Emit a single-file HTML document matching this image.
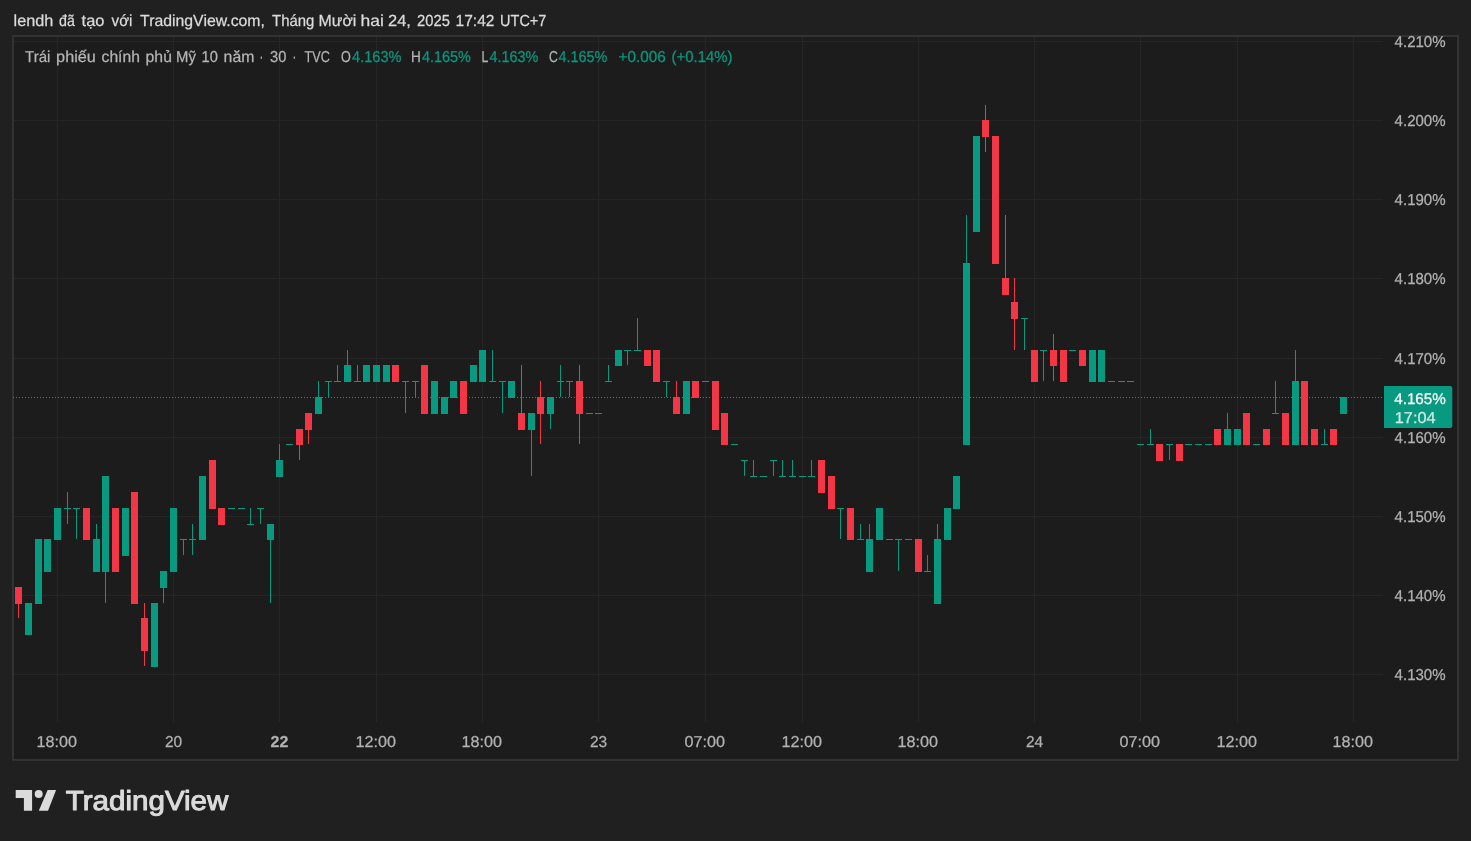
<!DOCTYPE html>
<html><head><meta charset="utf-8">
<style>
html,body{margin:0;padding:0;}
body{width:1471px;height:841px;background:#202020;position:relative;overflow:hidden;font-family:"Liberation Sans",sans-serif;}
.frame{position:absolute;left:12px;top:35px;width:1443px;height:722px;border:2px solid #323232;background:#1c1c1c;}
svg{position:absolute;left:0;top:0;will-change:transform;}
text{font-family:"Liberation Sans",sans-serif;white-space:pre;stroke:currentColor;text-rendering:geometricPrecision;}
</style></head><body>
<div class="frame"></div>
<svg width="1471" height="841">
<g shape-rendering="crispEdges">
<rect x="14" y="41" width="1369" height="1" fill="#262626"/>
<rect x="14" y="120" width="1369" height="1" fill="#262626"/>
<rect x="14" y="199" width="1369" height="1" fill="#262626"/>
<rect x="14" y="278" width="1369" height="1" fill="#262626"/>
<rect x="14" y="358" width="1369" height="1" fill="#262626"/>
<rect x="14" y="437" width="1369" height="1" fill="#262626"/>
<rect x="14" y="516" width="1369" height="1" fill="#262626"/>
<rect x="14" y="595" width="1369" height="1" fill="#262626"/>
<rect x="14" y="674" width="1369" height="1" fill="#262626"/>
<rect x="57" y="37" width="1" height="685" fill="#262626"/>
<rect x="173" y="37" width="1" height="685" fill="#262626"/>
<rect x="279" y="37" width="1" height="685" fill="#262626"/>
<rect x="376" y="37" width="1" height="685" fill="#262626"/>
<rect x="482" y="37" width="1" height="685" fill="#262626"/>
<rect x="598" y="37" width="1" height="685" fill="#262626"/>
<rect x="705" y="37" width="1" height="685" fill="#262626"/>
<rect x="802" y="37" width="1" height="685" fill="#262626"/>
<rect x="918" y="37" width="1" height="685" fill="#262626"/>
<rect x="1034" y="37" width="1" height="685" fill="#262626"/>
<rect x="1140" y="37" width="1" height="685" fill="#262626"/>
<rect x="1237" y="37" width="1" height="685" fill="#262626"/>
<rect x="1353" y="37" width="1" height="685" fill="#262626"/>
<rect x="18" y="587" width="1" height="31" fill="#f23645"/>
<rect x="15" y="587" width="7" height="17" fill="#f23645"/>
<rect x="25" y="603" width="7" height="32" fill="#089981"/>
<rect x="35" y="539" width="7" height="65" fill="#089981"/>
<rect x="44" y="539" width="7" height="33" fill="#089981"/>
<rect x="54" y="508" width="7" height="32" fill="#089981"/>
<rect x="67" y="492" width="1" height="32" fill="#089981"/>
<rect x="64" y="508" width="7" height="1" fill="#089981"/>
<rect x="76" y="508" width="1" height="31" fill="#089981"/>
<rect x="73" y="508" width="7" height="1" fill="#089981"/>
<rect x="83" y="508" width="7" height="32" fill="#f23645"/>
<rect x="96" y="524" width="1" height="48" fill="#089981"/>
<rect x="93" y="539" width="7" height="33" fill="#089981"/>
<rect x="105" y="476" width="1" height="127" fill="#089981"/>
<rect x="102" y="476" width="7" height="96" fill="#089981"/>
<rect x="112" y="508" width="7" height="64" fill="#f23645"/>
<rect x="122" y="508" width="7" height="48" fill="#089981"/>
<rect x="131" y="492" width="7" height="112" fill="#f23645"/>
<rect x="144" y="603" width="1" height="63" fill="#f23645"/>
<rect x="141" y="618" width="7" height="33" fill="#f23645"/>
<rect x="151" y="603" width="7" height="64" fill="#089981"/>
<rect x="163" y="571" width="1" height="32" fill="#089981"/>
<rect x="160" y="571" width="7" height="17" fill="#089981"/>
<rect x="170" y="508" width="7" height="64" fill="#089981"/>
<rect x="183" y="539" width="1" height="16" fill="#089981"/>
<rect x="180" y="539" width="7" height="1" fill="#089981"/>
<rect x="192" y="524" width="1" height="31" fill="#089981"/>
<rect x="189" y="539" width="7" height="1" fill="#089981"/>
<rect x="199" y="476" width="7" height="64" fill="#089981"/>
<rect x="209" y="460" width="7" height="49" fill="#f23645"/>
<rect x="218" y="508" width="7" height="17" fill="#f23645"/>
<rect x="228" y="508" width="7" height="1" fill="#089981"/>
<rect x="238" y="508" width="7" height="1" fill="#089981"/>
<rect x="250" y="508" width="1" height="17" fill="#089981"/>
<rect x="247" y="524" width="7" height="1" fill="#089981"/>
<rect x="260" y="508" width="1" height="16" fill="#089981"/>
<rect x="257" y="508" width="7" height="1" fill="#089981"/>
<rect x="270" y="524" width="1" height="79" fill="#089981"/>
<rect x="267" y="524" width="7" height="16" fill="#089981"/>
<rect x="279" y="444" width="1" height="33" fill="#089981"/>
<rect x="276" y="460" width="7" height="17" fill="#089981"/>
<rect x="286" y="444" width="7" height="1" fill="#089981"/>
<rect x="299" y="429" width="1" height="31" fill="#f23645"/>
<rect x="296" y="429" width="7" height="16" fill="#f23645"/>
<rect x="308" y="413" width="1" height="31" fill="#f23645"/>
<rect x="305" y="413" width="7" height="17" fill="#f23645"/>
<rect x="318" y="381" width="1" height="33" fill="#089981"/>
<rect x="315" y="397" width="7" height="17" fill="#089981"/>
<rect x="328" y="381" width="1" height="16" fill="#089981"/>
<rect x="325" y="381" width="7" height="1" fill="#089981"/>
<rect x="337" y="365" width="1" height="17" fill="#089981"/>
<rect x="334" y="381" width="7" height="1" fill="#089981"/>
<rect x="347" y="350" width="1" height="32" fill="#089981"/>
<rect x="344" y="365" width="7" height="17" fill="#089981"/>
<rect x="357" y="365" width="1" height="17" fill="#089981"/>
<rect x="354" y="381" width="7" height="1" fill="#089981"/>
<rect x="363" y="365" width="7" height="17" fill="#089981"/>
<rect x="373" y="365" width="7" height="17" fill="#089981"/>
<rect x="383" y="365" width="7" height="17" fill="#089981"/>
<rect x="392" y="365" width="7" height="17" fill="#f23645"/>
<rect x="405" y="381" width="1" height="32" fill="#089981"/>
<rect x="402" y="381" width="7" height="1" fill="#089981"/>
<rect x="415" y="381" width="1" height="16" fill="#089981"/>
<rect x="412" y="381" width="7" height="1" fill="#089981"/>
<rect x="421" y="365" width="7" height="49" fill="#f23645"/>
<rect x="431" y="381" width="7" height="33" fill="#089981"/>
<rect x="441" y="397" width="7" height="17" fill="#089981"/>
<rect x="450" y="381" width="7" height="17" fill="#089981"/>
<rect x="460" y="381" width="7" height="33" fill="#f23645"/>
<rect x="470" y="365" width="7" height="17" fill="#089981"/>
<rect x="479" y="350" width="7" height="32" fill="#089981"/>
<rect x="492" y="350" width="1" height="32" fill="#089981"/>
<rect x="489" y="381" width="7" height="1" fill="#089981"/>
<rect x="502" y="381" width="1" height="32" fill="#089981"/>
<rect x="499" y="381" width="7" height="1" fill="#089981"/>
<rect x="508" y="381" width="7" height="17" fill="#089981"/>
<rect x="521" y="365" width="1" height="65" fill="#f23645"/>
<rect x="518" y="413" width="7" height="17" fill="#f23645"/>
<rect x="531" y="413" width="1" height="63" fill="#089981"/>
<rect x="528" y="413" width="7" height="17" fill="#089981"/>
<rect x="540" y="381" width="1" height="63" fill="#f23645"/>
<rect x="537" y="397" width="7" height="17" fill="#f23645"/>
<rect x="550" y="397" width="1" height="32" fill="#089981"/>
<rect x="547" y="397" width="7" height="17" fill="#089981"/>
<rect x="560" y="365" width="1" height="32" fill="#089981"/>
<rect x="557" y="381" width="7" height="1" fill="#089981"/>
<rect x="569" y="381" width="1" height="16" fill="#089981"/>
<rect x="566" y="381" width="7" height="1" fill="#089981"/>
<rect x="579" y="365" width="1" height="79" fill="#f23645"/>
<rect x="576" y="381" width="7" height="33" fill="#f23645"/>
<rect x="586" y="413" width="7" height="1" fill="#089981"/>
<rect x="595" y="413" width="7" height="1" fill="#089981"/>
<rect x="608" y="365" width="1" height="17" fill="#089981"/>
<rect x="605" y="381" width="7" height="1" fill="#089981"/>
<rect x="615" y="350" width="7" height="16" fill="#089981"/>
<rect x="627" y="350" width="1" height="15" fill="#089981"/>
<rect x="624" y="350" width="7" height="1" fill="#089981"/>
<rect x="637" y="318" width="1" height="33" fill="#089981"/>
<rect x="634" y="350" width="7" height="1" fill="#089981"/>
<rect x="644" y="350" width="7" height="16" fill="#f23645"/>
<rect x="653" y="350" width="7" height="32" fill="#f23645"/>
<rect x="666" y="381" width="1" height="16" fill="#089981"/>
<rect x="663" y="381" width="7" height="1" fill="#089981"/>
<rect x="676" y="381" width="1" height="33" fill="#f23645"/>
<rect x="673" y="397" width="7" height="17" fill="#f23645"/>
<rect x="683" y="381" width="7" height="33" fill="#089981"/>
<rect x="692" y="381" width="7" height="17" fill="#f23645"/>
<rect x="702" y="381" width="7" height="1" fill="#089981"/>
<rect x="712" y="381" width="7" height="49" fill="#f23645"/>
<rect x="721" y="413" width="7" height="32" fill="#f23645"/>
<rect x="731" y="444" width="7" height="1" fill="#089981"/>
<rect x="744" y="460" width="1" height="16" fill="#089981"/>
<rect x="741" y="460" width="7" height="1" fill="#089981"/>
<rect x="753" y="460" width="1" height="17" fill="#089981"/>
<rect x="750" y="476" width="7" height="1" fill="#089981"/>
<rect x="760" y="476" width="7" height="1" fill="#089981"/>
<rect x="773" y="460" width="1" height="16" fill="#089981"/>
<rect x="770" y="460" width="7" height="1" fill="#089981"/>
<rect x="782" y="460" width="1" height="17" fill="#089981"/>
<rect x="779" y="476" width="7" height="1" fill="#089981"/>
<rect x="792" y="460" width="1" height="17" fill="#089981"/>
<rect x="789" y="476" width="7" height="1" fill="#089981"/>
<rect x="799" y="476" width="7" height="1" fill="#089981"/>
<rect x="811" y="460" width="1" height="17" fill="#089981"/>
<rect x="808" y="476" width="7" height="1" fill="#089981"/>
<rect x="818" y="460" width="7" height="33" fill="#f23645"/>
<rect x="828" y="476" width="7" height="33" fill="#f23645"/>
<rect x="840" y="508" width="1" height="31" fill="#089981"/>
<rect x="837" y="508" width="7" height="1" fill="#089981"/>
<rect x="847" y="508" width="7" height="32" fill="#f23645"/>
<rect x="860" y="524" width="1" height="16" fill="#089981"/>
<rect x="857" y="539" width="7" height="1" fill="#089981"/>
<rect x="869" y="524" width="1" height="48" fill="#089981"/>
<rect x="866" y="539" width="7" height="33" fill="#089981"/>
<rect x="876" y="508" width="7" height="32" fill="#089981"/>
<rect x="886" y="539" width="7" height="1" fill="#089981"/>
<rect x="898" y="539" width="1" height="32" fill="#089981"/>
<rect x="895" y="539" width="7" height="1" fill="#089981"/>
<rect x="905" y="539" width="7" height="1" fill="#089981"/>
<rect x="915" y="539" width="7" height="33" fill="#f23645"/>
<rect x="927" y="555" width="1" height="17" fill="#089981"/>
<rect x="924" y="571" width="7" height="1" fill="#089981"/>
<rect x="937" y="524" width="1" height="80" fill="#089981"/>
<rect x="934" y="539" width="7" height="65" fill="#089981"/>
<rect x="944" y="508" width="7" height="32" fill="#089981"/>
<rect x="953" y="476" width="7" height="33" fill="#089981"/>
<rect x="966" y="215" width="1" height="230" fill="#089981"/>
<rect x="963" y="263" width="7" height="182" fill="#089981"/>
<rect x="973" y="136" width="7" height="96" fill="#089981"/>
<rect x="985" y="105" width="1" height="47" fill="#f23645"/>
<rect x="982" y="120" width="7" height="17" fill="#f23645"/>
<rect x="992" y="136" width="7" height="128" fill="#f23645"/>
<rect x="1005" y="215" width="1" height="80" fill="#f23645"/>
<rect x="1002" y="278" width="7" height="17" fill="#f23645"/>
<rect x="1014" y="278" width="1" height="72" fill="#f23645"/>
<rect x="1011" y="302" width="7" height="17" fill="#f23645"/>
<rect x="1024" y="318" width="1" height="32" fill="#089981"/>
<rect x="1021" y="318" width="7" height="1" fill="#089981"/>
<rect x="1031" y="350" width="7" height="32" fill="#f23645"/>
<rect x="1043" y="350" width="1" height="31" fill="#089981"/>
<rect x="1040" y="350" width="7" height="1" fill="#089981"/>
<rect x="1053" y="334" width="1" height="47" fill="#f23645"/>
<rect x="1050" y="350" width="7" height="16" fill="#f23645"/>
<rect x="1060" y="350" width="7" height="32" fill="#f23645"/>
<rect x="1069" y="350" width="7" height="1" fill="#089981"/>
<rect x="1079" y="350" width="7" height="16" fill="#f23645"/>
<rect x="1089" y="350" width="7" height="32" fill="#089981"/>
<rect x="1098" y="350" width="7" height="32" fill="#089981"/>
<rect x="1108" y="381" width="7" height="1" fill="#089981"/>
<rect x="1118" y="381" width="7" height="1" fill="#089981"/>
<rect x="1127" y="381" width="7" height="1" fill="#089981"/>
<rect x="1137" y="444" width="7" height="1" fill="#089981"/>
<rect x="1150" y="429" width="1" height="16" fill="#089981"/>
<rect x="1147" y="444" width="7" height="1" fill="#089981"/>
<rect x="1156" y="444" width="7" height="17" fill="#f23645"/>
<rect x="1169" y="444" width="1" height="16" fill="#089981"/>
<rect x="1166" y="444" width="7" height="1" fill="#089981"/>
<rect x="1176" y="444" width="7" height="17" fill="#f23645"/>
<rect x="1185" y="444" width="7" height="1" fill="#089981"/>
<rect x="1195" y="444" width="7" height="1" fill="#089981"/>
<rect x="1205" y="444" width="7" height="1" fill="#089981"/>
<rect x="1214" y="429" width="7" height="16" fill="#f23645"/>
<rect x="1227" y="413" width="1" height="32" fill="#089981"/>
<rect x="1224" y="429" width="7" height="16" fill="#089981"/>
<rect x="1234" y="429" width="7" height="16" fill="#089981"/>
<rect x="1243" y="413" width="7" height="32" fill="#f23645"/>
<rect x="1253" y="444" width="7" height="1" fill="#089981"/>
<rect x="1263" y="429" width="7" height="16" fill="#f23645"/>
<rect x="1275" y="381" width="1" height="33" fill="#089981"/>
<rect x="1272" y="413" width="7" height="1" fill="#089981"/>
<rect x="1282" y="413" width="7" height="32" fill="#f23645"/>
<rect x="1295" y="350" width="1" height="95" fill="#089981"/>
<rect x="1292" y="381" width="7" height="64" fill="#089981"/>
<rect x="1301" y="381" width="7" height="64" fill="#f23645"/>
<rect x="1311" y="429" width="7" height="16" fill="#f23645"/>
<rect x="1324" y="429" width="1" height="16" fill="#089981"/>
<rect x="1321" y="444" width="7" height="1" fill="#089981"/>
<rect x="1330" y="429" width="7" height="16" fill="#f23645"/>
<rect x="1340" y="397" width="7" height="17" fill="#089981"/>
<path d="M13 397h1M16 397h1M19 397h1M22 397h1M25 397h1M28 397h1M31 397h1M34 397h1M37 397h1M40 397h1M43 397h1M46 397h1M49 397h1M52 397h1M55 397h1M58 397h1M61 397h1M64 397h1M67 397h1M70 397h1M73 397h1M76 397h1M79 397h1M82 397h1M85 397h1M88 397h1M91 397h1M94 397h1M97 397h1M100 397h1M103 397h1M106 397h1M109 397h1M112 397h1M115 397h1M118 397h1M121 397h1M124 397h1M127 397h1M130 397h1M133 397h1M136 397h1M139 397h1M142 397h1M145 397h1M148 397h1M151 397h1M154 397h1M157 397h1M160 397h1M163 397h1M166 397h1M169 397h1M172 397h1M175 397h1M178 397h1M181 397h1M184 397h1M187 397h1M190 397h1M193 397h1M196 397h1M199 397h1M202 397h1M205 397h1M208 397h1M211 397h1M214 397h1M217 397h1M220 397h1M223 397h1M226 397h1M229 397h1M232 397h1M235 397h1M238 397h1M241 397h1M244 397h1M247 397h1M250 397h1M253 397h1M256 397h1M259 397h1M262 397h1M265 397h1M268 397h1M271 397h1M274 397h1M277 397h1M280 397h1M283 397h1M286 397h1M289 397h1M292 397h1M295 397h1M298 397h1M301 397h1M304 397h1M307 397h1M310 397h1M313 397h1M316 397h1M319 397h1M322 397h1M325 397h1M328 397h1M331 397h1M334 397h1M337 397h1M340 397h1M343 397h1M346 397h1M349 397h1M352 397h1M355 397h1M358 397h1M361 397h1M364 397h1M367 397h1M370 397h1M373 397h1M376 397h1M379 397h1M382 397h1M385 397h1M388 397h1M391 397h1M394 397h1M397 397h1M400 397h1M403 397h1M406 397h1M409 397h1M412 397h1M415 397h1M418 397h1M421 397h1M424 397h1M427 397h1M430 397h1M433 397h1M436 397h1M439 397h1M442 397h1M445 397h1M448 397h1M451 397h1M454 397h1M457 397h1M460 397h1M463 397h1M466 397h1M469 397h1M472 397h1M475 397h1M478 397h1M481 397h1M484 397h1M487 397h1M490 397h1M493 397h1M496 397h1M499 397h1M502 397h1M505 397h1M508 397h1M511 397h1M514 397h1M517 397h1M520 397h1M523 397h1M526 397h1M529 397h1M532 397h1M535 397h1M538 397h1M541 397h1M544 397h1M547 397h1M550 397h1M553 397h1M556 397h1M559 397h1M562 397h1M565 397h1M568 397h1M571 397h1M574 397h1M577 397h1M580 397h1M583 397h1M586 397h1M589 397h1M592 397h1M595 397h1M598 397h1M601 397h1M604 397h1M607 397h1M610 397h1M613 397h1M616 397h1M619 397h1M622 397h1M625 397h1M628 397h1M631 397h1M634 397h1M637 397h1M640 397h1M643 397h1M646 397h1M649 397h1M652 397h1M655 397h1M658 397h1M661 397h1M664 397h1M667 397h1M670 397h1M673 397h1M676 397h1M679 397h1M682 397h1M685 397h1M688 397h1M691 397h1M694 397h1M697 397h1M700 397h1M703 397h1M706 397h1M709 397h1M712 397h1M715 397h1M718 397h1M721 397h1M724 397h1M727 397h1M730 397h1M733 397h1M736 397h1M739 397h1M742 397h1M745 397h1M748 397h1M751 397h1M754 397h1M757 397h1M760 397h1M763 397h1M766 397h1M769 397h1M772 397h1M775 397h1M778 397h1M781 397h1M784 397h1M787 397h1M790 397h1M793 397h1M796 397h1M799 397h1M802 397h1M805 397h1M808 397h1M811 397h1M814 397h1M817 397h1M820 397h1M823 397h1M826 397h1M829 397h1M832 397h1M835 397h1M838 397h1M841 397h1M844 397h1M847 397h1M850 397h1M853 397h1M856 397h1M859 397h1M862 397h1M865 397h1M868 397h1M871 397h1M874 397h1M877 397h1M880 397h1M883 397h1M886 397h1M889 397h1M892 397h1M895 397h1M898 397h1M901 397h1M904 397h1M907 397h1M910 397h1M913 397h1M916 397h1M919 397h1M922 397h1M925 397h1M928 397h1M931 397h1M934 397h1M937 397h1M940 397h1M943 397h1M946 397h1M949 397h1M952 397h1M955 397h1M958 397h1M961 397h1M964 397h1M967 397h1M970 397h1M973 397h1M976 397h1M979 397h1M982 397h1M985 397h1M988 397h1M991 397h1M994 397h1M997 397h1M1000 397h1M1003 397h1M1006 397h1M1009 397h1M1012 397h1M1015 397h1M1018 397h1M1021 397h1M1024 397h1M1027 397h1M1030 397h1M1033 397h1M1036 397h1M1039 397h1M1042 397h1M1045 397h1M1048 397h1M1051 397h1M1054 397h1M1057 397h1M1060 397h1M1063 397h1M1066 397h1M1069 397h1M1072 397h1M1075 397h1M1078 397h1M1081 397h1M1084 397h1M1087 397h1M1090 397h1M1093 397h1M1096 397h1M1099 397h1M1102 397h1M1105 397h1M1108 397h1M1111 397h1M1114 397h1M1117 397h1M1120 397h1M1123 397h1M1126 397h1M1129 397h1M1132 397h1M1135 397h1M1138 397h1M1141 397h1M1144 397h1M1147 397h1M1150 397h1M1153 397h1M1156 397h1M1159 397h1M1162 397h1M1165 397h1M1168 397h1M1171 397h1M1174 397h1M1177 397h1M1180 397h1M1183 397h1M1186 397h1M1189 397h1M1192 397h1M1195 397h1M1198 397h1M1201 397h1M1204 397h1M1207 397h1M1210 397h1M1213 397h1M1216 397h1M1219 397h1M1222 397h1M1225 397h1M1228 397h1M1231 397h1M1234 397h1M1237 397h1M1240 397h1M1243 397h1M1246 397h1M1249 397h1M1252 397h1M1255 397h1M1258 397h1M1261 397h1M1264 397h1M1267 397h1M1270 397h1M1273 397h1M1276 397h1M1279 397h1M1282 397h1M1285 397h1M1288 397h1M1291 397h1M1294 397h1M1297 397h1M1300 397h1M1303 397h1M1306 397h1M1309 397h1M1312 397h1M1315 397h1M1318 397h1M1321 397h1M1324 397h1M1327 397h1M1330 397h1M1333 397h1M1336 397h1M1339 397h1M1342 397h1M1345 397h1M1348 397h1M1351 397h1M1354 397h1M1357 397h1M1360 397h1M1363 397h1M1366 397h1M1369 397h1M1372 397h1M1375 397h1M1378 397h1M1381 397h1" stroke="#089981" stroke-width="1" transform="translate(0,0.5)"/>
</g>
<path d="M1384 386H1450.3Q1452.3 386 1452.3 388V426Q1452.3 428 1450.3 428H1384Z" fill="#089981"/>
<text x="13.6" y="25.7" font-size="16" fill="#dbdbdb" style="color:#dbdbdb" stroke-width="0.25" text-anchor="start" font-weight="normal" textLength="39.8" lengthAdjust="spacingAndGlyphs">lendh</text>
<text x="59.1" y="25.7" font-size="16" fill="#dbdbdb" style="color:#dbdbdb" stroke-width="0.25" text-anchor="start" font-weight="normal" textLength="15.8" lengthAdjust="spacingAndGlyphs">đã</text>
<text x="81.6" y="25.7" font-size="16" fill="#dbdbdb" style="color:#dbdbdb" stroke-width="0.25" text-anchor="start" font-weight="normal" textLength="22.8" lengthAdjust="spacingAndGlyphs">tạo</text>
<text x="111.6" y="25.7" font-size="16" fill="#dbdbdb" style="color:#dbdbdb" stroke-width="0.25" text-anchor="start" font-weight="normal" textLength="20.8" lengthAdjust="spacingAndGlyphs">với</text>
<text x="140.1" y="25.7" font-size="16" fill="#dbdbdb" style="color:#dbdbdb" stroke-width="0.25" text-anchor="start" font-weight="normal" textLength="124.8" lengthAdjust="spacingAndGlyphs">TradingView.com,</text>
<text x="272.1" y="25.7" font-size="16" fill="#dbdbdb" style="color:#dbdbdb" stroke-width="0.25" text-anchor="start" font-weight="normal" textLength="42.3" lengthAdjust="spacingAndGlyphs">Tháng</text>
<text x="318.6" y="25.7" font-size="16" fill="#dbdbdb" style="color:#dbdbdb" stroke-width="0.25" text-anchor="start" font-weight="normal" textLength="37.8" lengthAdjust="spacingAndGlyphs">Mười</text>
<text x="360.6" y="25.7" font-size="16" fill="#dbdbdb" style="color:#dbdbdb" stroke-width="0.25" text-anchor="start" font-weight="normal" textLength="23.3" lengthAdjust="spacingAndGlyphs">hai</text>
<text x="388.1" y="25.7" font-size="16" fill="#dbdbdb" style="color:#dbdbdb" stroke-width="0.25" text-anchor="start" font-weight="normal" textLength="22.8" lengthAdjust="spacingAndGlyphs">24,</text>
<text x="417.1" y="25.7" font-size="16" fill="#dbdbdb" style="color:#dbdbdb" stroke-width="0.25" text-anchor="start" font-weight="normal" textLength="32.8" lengthAdjust="spacingAndGlyphs">2025</text>
<text x="455.6" y="25.7" font-size="16" fill="#dbdbdb" style="color:#dbdbdb" stroke-width="0.25" text-anchor="start" font-weight="normal" textLength="38.8" lengthAdjust="spacingAndGlyphs">17:42</text>
<text x="500.1" y="25.7" font-size="16" fill="#dbdbdb" style="color:#dbdbdb" stroke-width="0.25" text-anchor="start" font-weight="normal" textLength="46.3" lengthAdjust="spacingAndGlyphs">UTC+7</text>
<text x="25.1" y="62" font-size="15.8" fill="#b5b5b5" style="color:#b5b5b5" stroke-width="0.25" text-anchor="start" font-weight="normal" textLength="25.3" lengthAdjust="spacingAndGlyphs">Trái</text>
<text x="56.1" y="62" font-size="15.8" fill="#b5b5b5" style="color:#b5b5b5" stroke-width="0.25" text-anchor="start" font-weight="normal" textLength="39.8" lengthAdjust="spacingAndGlyphs">phiếu</text>
<text x="101.6" y="62" font-size="15.8" fill="#b5b5b5" style="color:#b5b5b5" stroke-width="0.25" text-anchor="start" font-weight="normal" textLength="38.3" lengthAdjust="spacingAndGlyphs">chính</text>
<text x="145.6" y="62" font-size="15.8" fill="#b5b5b5" style="color:#b5b5b5" stroke-width="0.25" text-anchor="start" font-weight="normal" textLength="26.3" lengthAdjust="spacingAndGlyphs">phủ</text>
<text x="176.1" y="62" font-size="15.8" fill="#b5b5b5" style="color:#b5b5b5" stroke-width="0.25" text-anchor="start" font-weight="normal" textLength="19.8" lengthAdjust="spacingAndGlyphs">Mỹ</text>
<text x="201.6" y="62" font-size="15.8" fill="#b5b5b5" style="color:#b5b5b5" stroke-width="0.25" text-anchor="start" font-weight="normal" textLength="16.3" lengthAdjust="spacingAndGlyphs">10</text>
<text x="223.6" y="62" font-size="15.8" fill="#b5b5b5" style="color:#b5b5b5" stroke-width="0.25" text-anchor="start" font-weight="normal" textLength="30.8" lengthAdjust="spacingAndGlyphs">năm</text>
<text x="259.6" y="62" font-size="15.8" fill="#b5b5b5" style="color:#b5b5b5" stroke-width="0.25" text-anchor="start" font-weight="normal" textLength="3.8" lengthAdjust="spacingAndGlyphs">·</text>
<text x="270.1" y="62" font-size="15.8" fill="#b5b5b5" style="color:#b5b5b5" stroke-width="0.25" text-anchor="start" font-weight="normal" textLength="16.3" lengthAdjust="spacingAndGlyphs">30</text>
<text x="292.6" y="62" font-size="15.8" fill="#b5b5b5" style="color:#b5b5b5" stroke-width="0.25" text-anchor="start" font-weight="normal" textLength="3.8" lengthAdjust="spacingAndGlyphs">·</text>
<text x="304.6" y="62" font-size="15.8" fill="#b5b5b5" style="color:#b5b5b5" stroke-width="0.25" text-anchor="start" font-weight="normal" textLength="25.3" lengthAdjust="spacingAndGlyphs">TVC</text>
<text x="341.1" y="62" font-size="15.8" fill="#b5b5b5" style="color:#b5b5b5" stroke-width="0.25" text-anchor="start" font-weight="normal" textLength="9.8" lengthAdjust="spacingAndGlyphs">O</text>
<text x="352.1" y="62" font-size="15.8" fill="#089981" style="color:#089981" stroke-width="0.25" text-anchor="start" font-weight="normal" textLength="49.3" lengthAdjust="spacingAndGlyphs">4.163%</text>
<text x="411.1" y="62" font-size="15.8" fill="#b5b5b5" style="color:#b5b5b5" stroke-width="0.25" text-anchor="start" font-weight="normal" textLength="9.8" lengthAdjust="spacingAndGlyphs">H</text>
<text x="422.1" y="62" font-size="15.8" fill="#089981" style="color:#089981" stroke-width="0.25" text-anchor="start" font-weight="normal" textLength="48.8" lengthAdjust="spacingAndGlyphs">4.165%</text>
<text x="481.6" y="62" font-size="15.8" fill="#b5b5b5" style="color:#b5b5b5" stroke-width="0.25" text-anchor="start" font-weight="normal" textLength="6.8" lengthAdjust="spacingAndGlyphs">L</text>
<text x="489.6" y="62" font-size="15.8" fill="#089981" style="color:#089981" stroke-width="0.25" text-anchor="start" font-weight="normal" textLength="48.8" lengthAdjust="spacingAndGlyphs">4.163%</text>
<text x="549.1" y="62" font-size="15.8" fill="#b5b5b5" style="color:#b5b5b5" stroke-width="0.25" text-anchor="start" font-weight="normal" textLength="8.8" lengthAdjust="spacingAndGlyphs">C</text>
<text x="558.6" y="62" font-size="15.8" fill="#089981" style="color:#089981" stroke-width="0.25" text-anchor="start" font-weight="normal" textLength="48.8" lengthAdjust="spacingAndGlyphs">4.165%</text>
<text x="618.6" y="62" font-size="15.8" fill="#089981" style="color:#089981" stroke-width="0.25" text-anchor="start" font-weight="normal" textLength="47.3" lengthAdjust="spacingAndGlyphs">+0.006</text>
<text x="671.6" y="62" font-size="15.8" fill="#089981" style="color:#089981" stroke-width="0.25" text-anchor="start" font-weight="normal" textLength="60.8" lengthAdjust="spacingAndGlyphs">(+0.14%)</text>
<text x="1445.6" y="46.8" font-size="15.8" fill="#b2b2b2" style="color:#b2b2b2" stroke-width="0.25" text-anchor="end" font-weight="normal" textLength="51" lengthAdjust="spacingAndGlyphs">4.210%</text>
<text x="1445.6" y="125.8" font-size="15.8" fill="#b2b2b2" style="color:#b2b2b2" stroke-width="0.25" text-anchor="end" font-weight="normal" textLength="51" lengthAdjust="spacingAndGlyphs">4.200%</text>
<text x="1445.6" y="204.8" font-size="15.8" fill="#b2b2b2" style="color:#b2b2b2" stroke-width="0.25" text-anchor="end" font-weight="normal" textLength="51" lengthAdjust="spacingAndGlyphs">4.190%</text>
<text x="1445.6" y="283.8" font-size="15.8" fill="#b2b2b2" style="color:#b2b2b2" stroke-width="0.25" text-anchor="end" font-weight="normal" textLength="51" lengthAdjust="spacingAndGlyphs">4.180%</text>
<text x="1445.6" y="363.8" font-size="15.8" fill="#b2b2b2" style="color:#b2b2b2" stroke-width="0.25" text-anchor="end" font-weight="normal" textLength="51" lengthAdjust="spacingAndGlyphs">4.170%</text>
<text x="1445.6" y="442.8" font-size="15.8" fill="#b2b2b2" style="color:#b2b2b2" stroke-width="0.25" text-anchor="end" font-weight="normal" textLength="51" lengthAdjust="spacingAndGlyphs">4.160%</text>
<text x="1445.6" y="521.8" font-size="15.8" fill="#b2b2b2" style="color:#b2b2b2" stroke-width="0.25" text-anchor="end" font-weight="normal" textLength="51" lengthAdjust="spacingAndGlyphs">4.150%</text>
<text x="1445.6" y="600.8" font-size="15.8" fill="#b2b2b2" style="color:#b2b2b2" stroke-width="0.25" text-anchor="end" font-weight="normal" textLength="51" lengthAdjust="spacingAndGlyphs">4.140%</text>
<text x="1445.6" y="679.8" font-size="15.8" fill="#b2b2b2" style="color:#b2b2b2" stroke-width="0.25" text-anchor="end" font-weight="normal" textLength="51" lengthAdjust="spacingAndGlyphs">4.130%</text>
<text x="56.8" y="747" font-size="15.8" fill="#b2b2b2" style="color:#b2b2b2" stroke-width="0.25" text-anchor="middle" font-weight="normal" textLength="40.5" lengthAdjust="spacingAndGlyphs">18:00</text>
<text x="173.5" y="747" font-size="15.8" fill="#b2b2b2" style="color:#b2b2b2" stroke-width="0.25" text-anchor="middle" font-weight="normal" textLength="17.2" lengthAdjust="spacingAndGlyphs">20</text>
<text x="279.5" y="747" font-size="15.8" fill="#b2b2b2" style="color:#b2b2b2" stroke-width="0.25" text-anchor="middle" font-weight="bold" textLength="17.8" lengthAdjust="spacingAndGlyphs">22</text>
<text x="375.8" y="747" font-size="15.8" fill="#b2b2b2" style="color:#b2b2b2" stroke-width="0.25" text-anchor="middle" font-weight="normal" textLength="40.5" lengthAdjust="spacingAndGlyphs">12:00</text>
<text x="481.8" y="747" font-size="15.8" fill="#b2b2b2" style="color:#b2b2b2" stroke-width="0.25" text-anchor="middle" font-weight="normal" textLength="40.5" lengthAdjust="spacingAndGlyphs">18:00</text>
<text x="598.5" y="747" font-size="15.8" fill="#b2b2b2" style="color:#b2b2b2" stroke-width="0.25" text-anchor="middle" font-weight="normal" textLength="17.2" lengthAdjust="spacingAndGlyphs">23</text>
<text x="704.8" y="747" font-size="15.8" fill="#b2b2b2" style="color:#b2b2b2" stroke-width="0.25" text-anchor="middle" font-weight="normal" textLength="40.5" lengthAdjust="spacingAndGlyphs">07:00</text>
<text x="801.8" y="747" font-size="15.8" fill="#b2b2b2" style="color:#b2b2b2" stroke-width="0.25" text-anchor="middle" font-weight="normal" textLength="40.5" lengthAdjust="spacingAndGlyphs">12:00</text>
<text x="917.8" y="747" font-size="15.8" fill="#b2b2b2" style="color:#b2b2b2" stroke-width="0.25" text-anchor="middle" font-weight="normal" textLength="40.5" lengthAdjust="spacingAndGlyphs">18:00</text>
<text x="1034.5" y="747" font-size="15.8" fill="#b2b2b2" style="color:#b2b2b2" stroke-width="0.25" text-anchor="middle" font-weight="normal" textLength="17.2" lengthAdjust="spacingAndGlyphs">24</text>
<text x="1139.8" y="747" font-size="15.8" fill="#b2b2b2" style="color:#b2b2b2" stroke-width="0.25" text-anchor="middle" font-weight="normal" textLength="40.5" lengthAdjust="spacingAndGlyphs">07:00</text>
<text x="1236.8" y="747" font-size="15.8" fill="#b2b2b2" style="color:#b2b2b2" stroke-width="0.25" text-anchor="middle" font-weight="normal" textLength="40.5" lengthAdjust="spacingAndGlyphs">12:00</text>
<text x="1352.8" y="747" font-size="15.8" fill="#b2b2b2" style="color:#b2b2b2" stroke-width="0.25" text-anchor="middle" font-weight="normal" textLength="40.5" lengthAdjust="spacingAndGlyphs">18:00</text>
<text x="1445.8" y="403.7" font-size="15.6" fill="#ffffff" style="color:#ffffff" stroke-width="0.25" text-anchor="end" font-weight="normal" textLength="51.6" lengthAdjust="spacingAndGlyphs">4.165%</text>
<text x="1394.8" y="422.8" font-size="15.8" fill="#d0ece6" style="color:#d0ece6" stroke-width="0.25" text-anchor="start" font-weight="normal" textLength="40.8" lengthAdjust="spacingAndGlyphs">17:04</text>
<g fill="#dbdbdb">
<path d="M15.7 790H32.1V810.7H23.9V798.1H15.7Z"/>
<circle cx="38.7" cy="794.1" r="4.0"/>
<path d="M47.6 790H56.1L48 810.7H38.8Z"/>
</g>
<text x="65.8" y="809.8" font-size="27.5" fill="#dbdbdb" style="color:#dbdbdb" stroke-width="1.0" stroke-linejoin="round" font-weight="normal" textLength="162.6" lengthAdjust="spacingAndGlyphs">TradingView</text>
</svg>
</body></html>
